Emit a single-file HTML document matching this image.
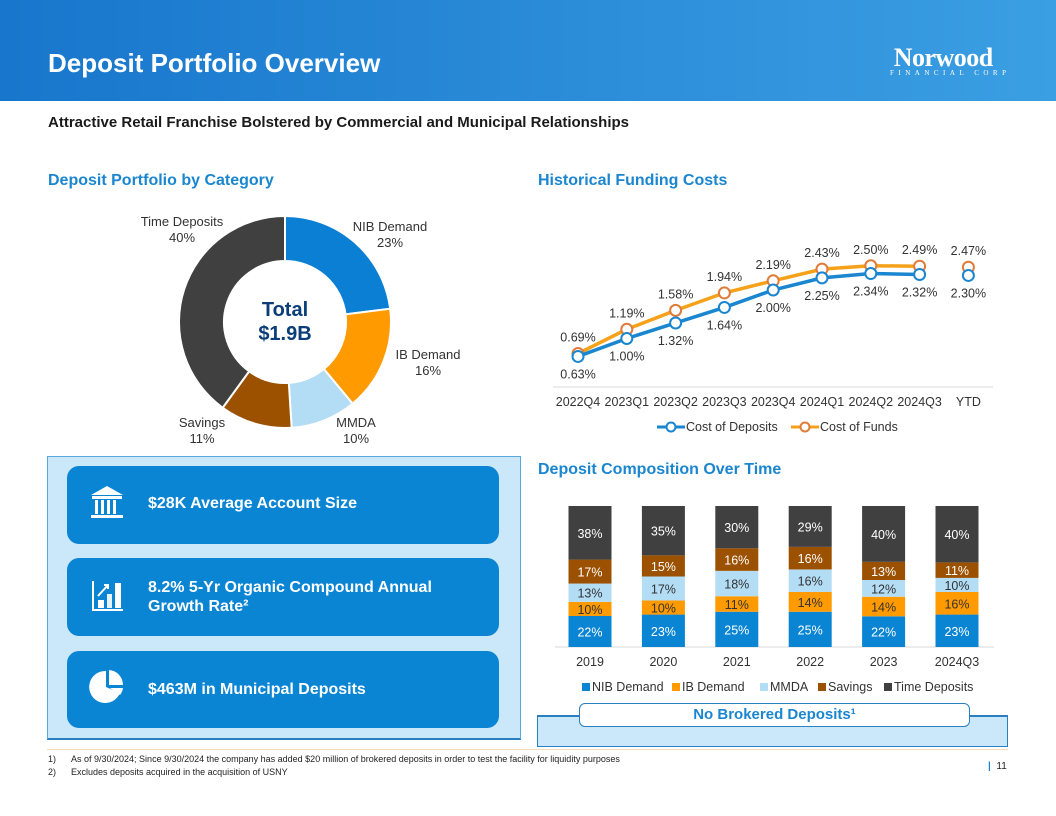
<!DOCTYPE html>
<html><head><meta charset="utf-8"><style>
*{margin:0;padding:0;box-sizing:border-box}
body{width:1056px;height:816px;position:relative;background:#fff;font-family:"Liberation Sans",sans-serif;overflow:hidden}
.abs{position:absolute}
.h{color:#1a86d0;font-weight:bold;font-size:16px}
.card{position:absolute;left:67px;width:432px;background:#0a85d4;border-radius:12px;color:#fff;font-weight:bold;font-size:16px}
</style></head><body>
<div class="abs" style="left:0;top:0;width:1056px;height:101px;background:linear-gradient(90deg,#1876cc,#3b9fe3)"></div>
<div class="abs" style="left:48px;top:48px;color:#fff;font-weight:bold;font-size:26px">Deposit Portfolio Overview</div>
<div class="abs" style="left:876px;top:47px;color:#fff;text-align:center">
<div style="font-family:'Liberation Serif',serif;font-weight:bold;font-size:26px;line-height:22px;letter-spacing:-0.5px">Norwood</div>
<div style="font-family:'Liberation Serif',serif;font-size:7px;letter-spacing:4.5px;line-height:9px;padding-left:14px">FINANCIAL CORP</div></div>
<div class="abs" style="left:48px;top:114px;font-weight:bold;font-size:15px;color:#1a1a1a">Attractive Retail Franchise Bolstered by Commercial and Municipal Relationships</div>
<div class="abs h" style="left:48px;top:172px">Deposit Portfolio by Category</div>
<div class="abs h" style="left:538px;top:172px">Historical Funding Costs</div>
<div class="abs h" style="left:538px;top:461px">Deposit Composition Over Time</div>

<svg class="abs" style="left:0;top:0" width="1056" height="816" id="charts"></svg>

<div class="abs" style="left:47px;top:456px;width:474px;height:284px;background:#cbe8fa;border:1px solid #5aa9de;border-bottom:2px solid #2a7fc0"></div>
<div class="card" style="top:466px;height:78px">
<svg class="abs" style="left:22px;top:18px" width="36" height="36" viewBox="0 0 36 36"><polygon points="18,2 34,11 2,11" fill="#fff"/><rect x="3" y="12" width="30" height="3" fill="#fff"/><rect x="6" y="16" width="3" height="14" fill="#fff"/><rect x="12" y="16" width="3" height="14" fill="#fff"/><rect x="18" y="16" width="3" height="14" fill="#fff"/><rect x="24" y="16" width="3" height="14" fill="#fff"/><rect x="2" y="31" width="32" height="3" fill="#fff"/></svg>
<div class="abs" style="left:81px;top:29px">$28K Average Account Size</div></div>
<div class="card" style="top:558px;height:78px">
<svg class="abs" style="left:25px;top:22px" width="32" height="32" viewBox="0 0 32 32"><path d="M1 1V30H31" stroke="#fff" stroke-width="2" fill="none"/><rect x="6" y="20" width="6" height="8" fill="#fff"/><rect x="15" y="14" width="5" height="14" fill="#fff" opacity=".9"/><rect x="23" y="3" width="6" height="25" fill="#fff"/><path d="M6 16L16 5M12 5h4v4" stroke="#fff" stroke-width="2" fill="none"/></svg>
<div class="abs" style="left:81px;top:20px;line-height:19px">8.2% 5-Yr Organic Compound Annual<br>Growth Rate²</div></div>
<div class="card" style="top:651px;height:77px">
<svg class="abs" style="left:22px;top:18px" width="36" height="36" viewBox="0 0 36 36"><path d="M17 2A16 16 0 1 0 31 24L17 18Z" fill="#fff"/><path d="M20 1A15 15 0 0 1 34 16H20Z" fill="#fff"/><path d="M21 19H34A15 15 0 0 1 31 26Z" fill="#fff"/></svg>
<div class="abs" style="left:81px;top:30px">$463M in Municipal Deposits</div></div>

<div class="abs" style="left:537px;top:715px;width:471px;height:32px;background:#cbe8fa;border:1px solid #2a7fc0;border-top:2px solid #2a7fc0"></div>
<div class="abs" style="left:579px;top:703px;width:391px;height:24px;background:#fff;border:1.5px solid #2a7fc0;border-radius:6px;text-align:center;color:#1a86d0;font-weight:bold;font-size:15px;line-height:21px">No Brokered Deposits¹</div>

<div class="abs" style="left:47px;top:749px;width:961px;height:1px;background:#f3dcb8"></div>
<div class="abs" style="left:48px;top:753px;font-size:9px;line-height:13px;color:#222">
<div>1)&nbsp;&nbsp;&nbsp;&nbsp;&nbsp;&nbsp;As of 9/30/2024; Since 9/30/2024 the company has added $20 million of brokered deposits in order to test the facility for liquidity purposes</div>
<div>2)&nbsp;&nbsp;&nbsp;&nbsp;&nbsp;&nbsp;Excludes deposits acquired in the acquisition of USNY</div></div>
<div class="abs" style="left:988px;top:761px;font-size:10px;color:#222"><span style="color:#1a86d0;font-weight:bold">|</span>&nbsp;&nbsp;11</div>

<script>
// Donut data
const donutCats=["NIB Demand","IB Demand","MMDA","Savings","Time Deposits"];
const donutVals=[23,16,10,11,40];
const donutColors=["#0a7fd4","#ff9a00","#b3dcf5","#9c5100","#404040"];
// Line data
const lineCats=["2022Q4","2023Q1","2023Q2","2023Q3","2023Q4","2024Q1","2024Q2","2024Q3","YTD"];
const costDeposits=[0.63,1.00,1.32,1.64,2.00,2.25,2.34,2.32,2.30];
const costFunds=[0.69,1.19,1.58,1.94,2.19,2.43,2.50,2.49,2.47];
// Bar data
const barCats=["2019","2020","2021","2022","2023","2024Q3"];
const nib=[22,23,25,25,22,23];
const ib=[10,10,11,14,14,16];
const mmda=[13,17,18,16,12,10];
const savings=[17,15,16,16,13,11];
const timeDep=[38,35,30,29,40,40];

const NS="http://www.w3.org/2000/svg";
const svg=document.getElementById('charts');
function mk(t,a,p){const e=document.createElementNS(NS,t);for(const k in a)e.setAttribute(k,a[k]);(p||svg).appendChild(e);return e;}
function txt(x,y,s,o){o=o||{};const e=mk('text',{x:x,y:y,'font-size':o.fs||12,fill:o.fill||'#333','text-anchor':o.anchor||'middle','font-family':'Liberation Sans, sans-serif','font-weight':o.fw||'normal'});e.textContent=s;return e;}

// Donut
const cx=285,cy=322,R=106,r=61;
const tot=donutVals.reduce((a,b)=>a+b,0);
let ang=0;
const labelPos=[[390,231],[428,359],[356,427],[202,427],[182,226]];
donutVals.forEach((v,i)=>{
 const a0=ang/tot*2*Math.PI,a1=(ang+v)/tot*2*Math.PI;ang+=v;
 const p=(a,rr)=>[cx+rr*Math.sin(a),cy-rr*Math.cos(a)];
 const [x0,y0]=p(a0,R),[x1,y1]=p(a1,R),[x2,y2]=p(a1,r),[x3,y3]=p(a0,r);
 const lg=(a1-a0)>Math.PI?1:0;
 const s=mk('path',{d:`M${x0},${y0}A${R},${R} 0 ${lg} 1 ${x1},${y1}L${x2},${y2}A${r},${r} 0 ${lg} 0 ${x3},${y3}Z`,fill:donutColors[i],stroke:'#fff','stroke-width':2});
 
 
 const lp=labelPos[i];
 const t1=txt(lp[0],lp[1],donutCats[i],{fs:13});
 
 
 const t2=txt(lp[0],lp[1]+16,v+'%',{fs:13});
 
 
});
const tt=txt(cx,316,'Total',{fs:20,fw:'bold',fill:'#0b3d78'});


const tv=txt(cx,340,'$1.9B',{fs:20,fw:'bold',fill:'#0b3d78'});



// Line chart
const lx=i=>578+i*48.8, ly=v=>387-48.5*v;
const ax=mk('line',{x1:553,x2:993,y1:387,y2:387,stroke:'#d9d9d9'});


lineCats.forEach((c,i)=>{const t=txt(lx(i),406,c,{fs:12.5});});
function series(vals,col,mcol,name,below){
 const pts=vals.slice(0,8).map((v,i)=>lx(i)+','+ly(v)).join(' ');
 const pl=mk('polyline',{points:pts,fill:'none',stroke:col,'stroke-width':3.5});
 
 
 vals.forEach((v,i)=>{
  const c=mk('circle',{cx:lx(i),cy:ly(v),r:5.5,fill:'#fff',stroke:mcol,'stroke-width':2});
  
  
  const t=txt(lx(i),below?ly(v)+22:ly(v)-12,v.toFixed(2)+'%',{fs:12.5});
  
  
 });
}
series(costFunds,'#f5a21a','#e07b39','cost-of-funds',false);
series(costDeposits,'#1a86d0','#1a86d0','cost-of-deposits',true);
const l1=mk('line',{x1:657,x2:685,y1:427,y2:427,stroke:'#1a86d0','stroke-width':3});

const l1c=mk('circle',{cx:671,cy:427,r:4.5,fill:'#fff',stroke:'#1a86d0','stroke-width':2});

const l1t=txt(686,431,'Cost of Deposits',{fs:12.5,anchor:'start'});

const l2=mk('line',{x1:791,x2:819,y1:427,y2:427,stroke:'#f5a21a','stroke-width':3});

const l2c=mk('circle',{cx:805,cy:427,r:4.5,fill:'#fff',stroke:'#e07b39','stroke-width':2});

const l2t=txt(820,431,'Cost of Funds',{fs:12.5,anchor:'start'});


// Bar chart
const bx=i=>590+i*73.4, base=647, H=141, bw=43;
const bax=mk('line',{x1:555,x2:994,y1:base,y2:base,stroke:'#d9d9d9'});

const stacks=[[nib,'#0a85d4','#fff','nib'],[ib,'#ff9a00','#333','ib'],[mmda,'#b3dcf5','#333','mmda'],[savings,'#9c5100','#fff','savings'],[timeDep,'#404040','#fff','time']];
barCats.forEach((c,i)=>{
 const sum=stacks.reduce((a,s)=>a+s[0][i],0);
 let y=base;
 stacks.forEach(s=>{
  const h=s[0][i]/sum*H;
  const r=mk('rect',{x:bx(i)-bw/2,y:y-h,width:bw,height:h,fill:s[1]});
  
  
  const t=txt(bx(i),y-h/2+5,s[0][i]+'%',{fs:12.5,fill:s[2]});
  
  
  y-=h;
 });
 const t=txt(bx(i),666,c,{fs:12.5});
 
 
});
const legs=[["NIB Demand",582],["IB Demand",672],["MMDA",760],["Savings",818],["Time Deposits",884]];
legs.forEach((l,i)=>{
 const r=mk('rect',{x:l[1],y:683,width:8,height:8,fill:stacks[i][1]});
 
 
 const t=txt(l[1]+10,691,l[0],{fs:12.5,anchor:'start'});
 
 
});
</script>
</body></html>
